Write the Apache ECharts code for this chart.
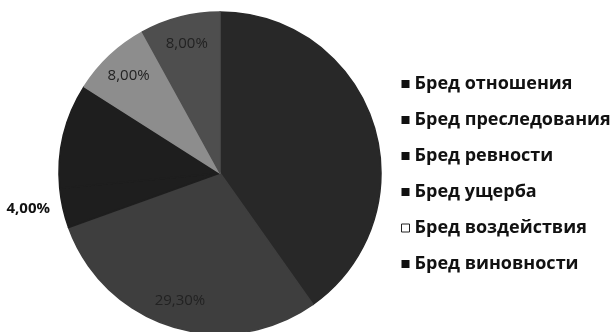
<!DOCTYPE html>
<html>
<head>
<meta charset="utf-8">
<script src="https://cdn.jsdelivr.net/npm/echarts@6/dist/echarts.min.js"></script>
<style>html,body{margin:0;padding:0;background:#fff;}#c{width:614px;height:332px;}</style>
</head>
<body>
<div id="c"></div>
<script>
const categories = ['Бред отношения','Бред преследования','Бред ревности','Бред ущерба','Бред воздействия','Бред виновности'];
const values = [40.2, 29.3, 4.0, 10.5, 8.0, 8.0];
const colors = ['#282828','#3e3e3e','#1e1e1e','#1e1e1e','#8d8d8d','#4e4e4e'];
const showLabel = [false, true, true, false, true, true];

const chart = echarts.init(document.getElementById('c'));
const fmt = p => p.value.toFixed(2).replace('.', ',') + '%';

const sliceData = categories.map((n,i)=>({name:n, value:values[i],
  itemStyle:{color:colors[i], borderColor:colors[i], borderWidth:1.5}}));
const labelData = categories.map((n,i)=>{
  const d = {name:n, value:values[i], itemStyle:{color:'rgba(0,0,0,0)', borderWidth:0, borderColor:'rgba(0,0,0,0)'}, label:{show:showLabel[i]}};
  if (i === 2) {
    d.label = {show:true, position:'outside', color:'#111', fontWeight:'bold', fontSize:15,
      fontFamily:'Open Sans', overflow:'none', width:80};
    d.labelLine = {show:false, length:4, length2:4};
  }
  return d;
});

chart.setOption({
  backgroundColor:'#fff',
  animation:false,
  legend:{
    orient:'vertical', left:396, top:69,
    icon:'rect', itemWidth:8, itemHeight:8, itemGap:16,
    textStyle:{fontFamily:'Open Sans', fontWeight:'bold', fontSize:18, color:'#111', lineHeight:20},
    data: categories.map((n,i)=> i===4
      ? {name:n, itemStyle:{color:'#fff', borderColor:'#222', borderWidth:1}}
      : {name:n, itemStyle:{color:'#111', borderColor:'#111', borderWidth:0}})
  },
  series:[
    {
      type:'pie', center:[220,173], radius:161, startAngle:90, clockwise:true,
      silent:true, label:{show:false}, labelLine:{show:false},
      data: sliceData
    },
    {
      type:'pie', center:[220,173], radius:[100,161], startAngle:90, clockwise:true,
      silent:true, legendHoverLink:false,
      label:{show:true, position:'inside', formatter:fmt, fontFamily:'Open Sans', fontSize:15, color:'#222'},
      labelLine:{show:false},
      data: labelData
    }
  ]
});
</script>
</body>
</html>
